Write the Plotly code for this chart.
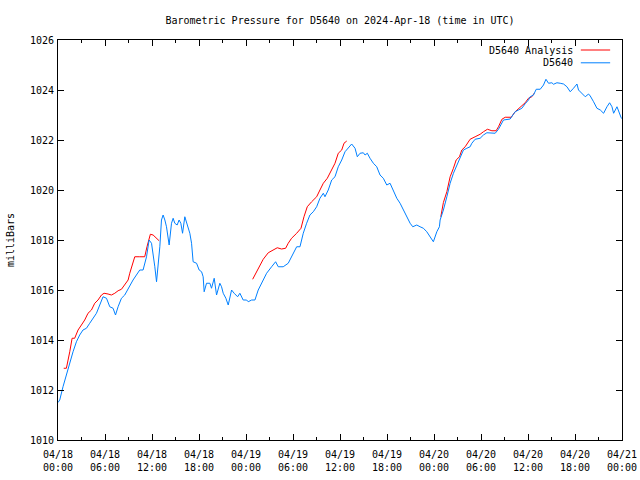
import plotly.graph_objects as go

# ---- data (hours since 2024-04-18 00:00 UTC, pressure in mb) ----
obs_hours = [0.0, 0.22, 0.64, 1.07, 1.50, 1.92, 2.35, 2.77, 3.19, 3.63, 4.05, 4.47, 4.91, 5.33, 5.75,
             6.19, 6.61, 7.03, 7.34, 7.67, 8.10, 8.52, 8.95, 9.58, 10.44, 10.86, 11.30, 11.63, 11.94,
             12.14, 12.36, 12.58, 12.78, 13.00, 13.21, 13.42, 13.64, 13.85, 14.19, 14.49, 14.70, 14.91,
             15.21, 15.46, 15.68, 15.90, 16.19, 16.41, 16.83, 17.05, 17.25, 17.69, 18.02, 18.33, 18.53,
             18.66, 18.96, 19.39, 19.60, 19.94, 20.24, 20.66, 20.88, 21.09, 21.43, 21.73, 21.94, 22.16,
             22.49, 22.93, 23.22, 23.64, 24.08, 24.28, 24.72, 25.14, 25.56, 25.99, 26.63, 27.27, 27.78,
             28.12, 28.75, 29.39, 30.03, 30.47, 30.89, 31.31, 31.74, 32.16, 32.59, 33.02, 33.44, 33.87,
             34.08, 34.50, 34.94, 35.36, 35.78, 36.22, 36.64, 37.06, 37.49, 37.92, 38.21, 38.56, 38.98,
             39.20, 39.49, 39.83, 40.26, 40.69, 41.11, 41.53, 41.97, 42.39, 42.81, 43.25, 43.67, 44.09,
             44.52, 44.95, 45.29, 45.80, 46.22, 46.65, 47.08, 47.50, 47.92, 48.36, 48.69, 48.78, 49.20,
             49.64, 50.06, 50.48, 50.91, 51.34, 51.76, 52.19, 52.61, 52.83, 53.25, 53.89, 54.31, 54.75,
             55.39, 55.81, 56.23, 56.67, 56.87, 57.72, 58.07, 58.36, 58.79, 59.22, 59.64, 60.06, 60.28,
             60.70, 61.05, 61.56, 61.98, 62.29, 62.62, 63.05, 63.26, 63.69, 64.11, 64.54, 64.97, 65.39,
             65.81, 66.25, 66.45, 66.67, 66.89, 67.31, 67.73, 67.95, 68.37, 68.80, 69.23, 69.65, 70.08,
             70.42, 70.72, 70.93, 71.36, 71.57, 71.87, 72.0]
obs_mb = [1011.5, 1011.6, 1012.13, 1012.6, 1013.13, 1013.53, 1013.93, 1014.2, 1014.4, 1014.47, 1014.67,
          1014.87, 1015.07, 1015.4, 1015.73, 1015.67, 1015.33, 1015.27, 1015.0, 1015.33, 1015.67, 1015.8,
          1016.07, 1016.4, 1016.8, 1016.8, 1017.33, 1018.0, 1017.87, 1017.47, 1016.93, 1016.33, 1016.93,
          1017.73, 1018.8, 1019.0, 1018.8, 1018.53, 1017.8, 1018.67, 1018.87, 1018.67, 1018.6, 1018.8,
          1018.67, 1018.27, 1018.93, 1018.67, 1018.27, 1017.87, 1017.13, 1017.07, 1016.8, 1016.73,
          1016.53, 1015.93, 1016.27, 1016.27, 1016.07, 1016.47, 1015.8, 1016.27, 1016.13, 1015.87,
          1015.67, 1015.4, 1015.67, 1016.0, 1015.87, 1015.73, 1015.87, 1015.6, 1015.6, 1015.53, 1015.6,
          1015.6, 1016.0, 1016.27, 1016.67, 1016.93, 1017.13, 1016.93, 1016.93, 1017.07, 1017.47,
          1017.73, 1017.73, 1018.27, 1018.67, 1019.0, 1019.13, 1019.33, 1019.67, 1019.87, 1019.73,
          1020.0, 1020.4, 1020.53, 1020.93, 1021.2, 1021.53, 1021.67, 1021.84, 1021.67, 1021.33,
          1021.47, 1021.49, 1021.4, 1021.47, 1021.27, 1021.07, 1020.93, 1020.6, 1020.47, 1020.2,
          1020.27, 1020.0, 1019.67, 1019.47, 1019.2, 1018.93, 1018.67, 1018.53, 1018.6, 1018.53,
          1018.47, 1018.33, 1018.13, 1017.93, 1018.33, 1018.53, 1018.8, 1019.2, 1019.73, 1020.27,
          1020.67, 1021.0, 1021.27, 1021.6, 1021.67, 1021.73, 1021.87, 1022.03, 1022.07, 1022.2,
          1022.29, 1022.29, 1022.27, 1022.43, 1022.73, 1022.8, 1022.84, 1023.0, 1023.13, 1023.2,
          1023.27, 1023.45, 1023.6, 1023.73, 1023.8, 1024.03, 1024.03, 1024.2, 1024.43, 1024.27,
          1024.29, 1024.23, 1024.29, 1024.27, 1024.24, 1024.13, 1023.93, 1024.07, 1024.24, 1024.0,
          1023.93, 1023.87, 1023.73, 1023.84, 1023.76, 1023.53, 1023.27, 1023.2, 1023.07, 1023.33,
          1023.49, 1023.33, 1023.07, 1023.33, 1023.13, 1022.91, 1022.85]

# Analysis series, None marks the gaps between analysis runs
ana_hours = [0.73, 1.07, 1.50, 1.80, 2.13, 2.56, 2.99, 3.41, 3.83, 4.27, 4.69, 5.11, 5.55, 5.88, 6.39,
             6.82, 7.25, 7.67, 8.10, 8.52, 8.95, 9.16, 9.50, 9.80, 10.44, 11.07, 11.36, 11.79, 12.14,
             12.58, 12.91, None,
             24.85, 25.35, 25.78, 26.20, 26.84, 27.48, 27.99, 28.54, 29.06, 29.39, 29.82, 30.47, 31.02,
             31.40, 31.82, 32.38, 33.02, 33.44, 33.87, 34.38, 34.94, 35.36, 35.78, 36.22, 36.51, 36.86,
             None,
             48.87, 49.20, 49.64, 50.06, 50.48, 50.83, 51.25, 51.55, 51.98, 52.61, 53.25, 53.89, 54.31,
             54.82, 55.39, 55.93, 56.23, 56.67, 57.09, 57.85, 58.36, 59.00, 59.64, 60.06, 60.49, 60.79]
ana_mb = [1012.87, 1012.87, 1013.53, 1014.07, 1014.07, 1014.4, 1014.6, 1014.8, 1015.07, 1015.2, 1015.47,
          1015.6, 1015.8, 1015.87, 1015.84, 1015.8, 1015.87, 1015.97, 1016.03, 1016.2, 1016.4, 1016.67,
          1017.0, 1017.33, 1017.33, 1017.33, 1017.73, 1018.23, 1018.2, 1018.07, 1017.97, None,
          1016.43, 1016.73, 1017.0, 1017.23, 1017.49, 1017.6, 1017.69, 1017.64, 1017.67, 1017.87,
          1018.07, 1018.27, 1018.47, 1018.93, 1019.33, 1019.53, 1019.73, 1020.0, 1020.27, 1020.47,
          1020.8, 1021.07, 1021.47, 1021.6, 1021.87, 1021.96, None,
          1018.93, 1019.5, 1019.93, 1020.53, 1020.87, 1021.2, 1021.33, 1021.6, 1021.73, 1022.03,
          1022.13, 1022.23, 1022.33, 1022.43, 1022.37, 1022.37, 1022.53, 1022.83, 1022.91, 1022.91,
          1023.13, 1023.33, 1023.49, 1023.67, 1023.73, 1023.87]

tick_hours = [0, 6, 12, 18, 24, 30, 36, 42, 48, 54, 60, 66, 72]
tick_labels = ["04/18<br>00:00", "04/18<br>06:00", "04/18<br>12:00", "04/18<br>18:00",
               "04/19<br>00:00", "04/19<br>06:00", "04/19<br>12:00", "04/19<br>18:00",
               "04/20<br>00:00", "04/20<br>06:00", "04/20<br>12:00", "04/20<br>18:00",
               "04/21<br>00:00"]
series_names = ["D5640 Analysis", "D5640"]
RED = "#ff0000"
BLUE = "#0080ff"
FONT = "DejaVu Sans Mono"

fig = go.Figure()
fig.add_trace(go.Scatter(x=ana_hours, y=ana_mb, mode="lines", name=series_names[0],
                         line=dict(color=RED, width=1), connectgaps=False, showlegend=False))
fig.add_trace(go.Scatter(x=obs_hours, y=obs_mb, mode="lines", name=series_names[1],
                         line=dict(color=BLUE, width=1), showlegend=False))

axis_common = dict(showline=True, linecolor="black", linewidth=1, mirror="allticks",
                   ticks="inside", ticklen=6, tickcolor="black", showgrid=False, zeroline=False,
                   automargin=False,
                   tickfont=dict(family=FONT, size=10, color="black"))

fig.update_xaxes(range=[0, 72], tickvals=tick_hours, ticktext=tick_labels, ticklabelstandoff=5,
                 minor=dict(ticks="inside", ticklen=3, dtick=3, tick0=0, tickcolor="black"),
                 **axis_common)
fig.update_yaxes(range=[1010, 1026], dtick=2, tick0=1010, ticklabelstandoff=1, **axis_common)

# legend drawn gnuplot-style: text right-aligned, sample line to the right
annotations = [
    dict(text="milliBars", xref="paper", yref="paper", x=-0.085, y=0.5, textangle=-90,
         showarrow=False, font=dict(family=FONT, size=10, color="black"),
         xanchor="center", yanchor="middle"),
]
shapes = []
leg_y = [0.975, 0.943]
for name, col, yy in zip(series_names, [RED, BLUE], leg_y):
    annotations.append(dict(text=name, xref="paper", yref="paper", x=0.917, y=yy,
                            xanchor="right", yanchor="middle", showarrow=False,
                            font=dict(family=FONT, size=10, color="black")))
    shapes.append(dict(type="line", xref="paper", yref="paper", x0=0.927, x1=0.979,
                       y0=yy, y1=yy, line=dict(color=col, width=1)))

fig.update_layout(
    width=640, height=480,
    margin=dict(l=58, r=18, t=40, b=40),
    paper_bgcolor="white", plot_bgcolor="white",
    title=dict(text="Barometric Pressure for D5640 on 2024-Apr-18 (time in UTC)",
               x=0.5, xref="paper", y=1 - 20 / 480, yanchor="middle",
               font=dict(family=FONT, size=10, color="black")),
    annotations=annotations, shapes=shapes,
    showlegend=False,
)

# remove the browser's default body margin so the 640x480 figure fills the window exactly
fig.write_html("out.html",
               config={"displayModeBar": False, "staticPlot": True},
               post_script="document.body.style.margin='0px';document.body.style.overflow='hidden';")
